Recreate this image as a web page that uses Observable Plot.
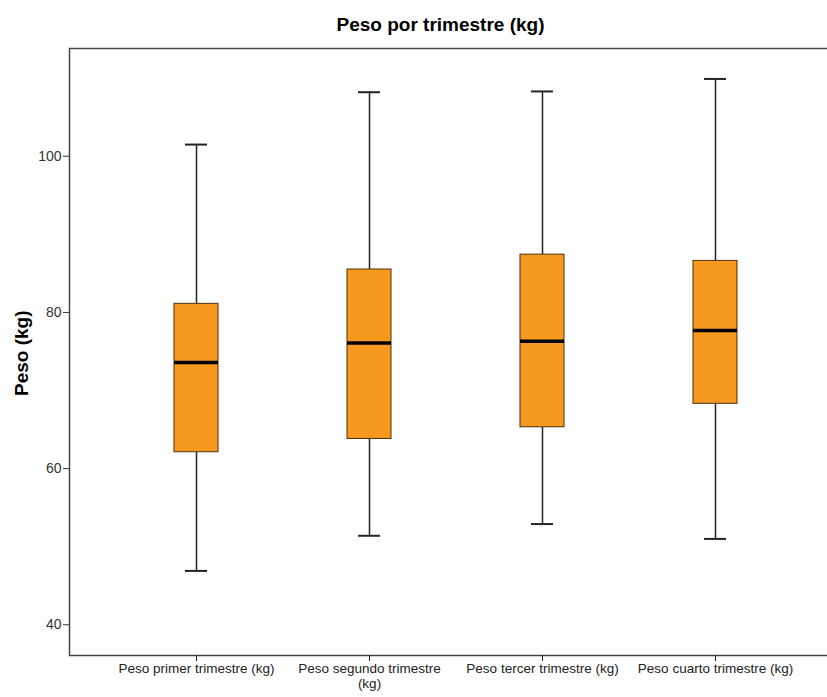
<!DOCTYPE html>
<html>
<head>
<meta charset="utf-8">
<script src="https://cdn.jsdelivr.net/npm/d3@7"></script>
<script src="https://cdn.jsdelivr.net/npm/@observablehq/plot@0.6"></script>
<style>
  body { margin: 0; background: #fff; font-family: "Liberation Sans", Arial, sans-serif; }
  #title { height: 40px; line-height: 50px; text-align: center; font-weight: bold; font-size: 19px; color: #000; padding-left: 54px; }
</style>
</head>
<body>
<div id="title">Peso por trimestre (kg)</div>
<div id="chart"></div>
<script>
// Quarterly weight summaries (kg)
const trimestres = ["Peso primer trimestre (kg)", "Peso segundo trimestre (kg)", "Peso tercer trimestre (kg)", "Peso cuarto trimestre (kg)"];
const minimo  = [46.9, 51.4, 52.9, 51.0];
const q1      = [62.1, 63.8, 65.3, 68.3];
const mediana = [73.6, 76.1, 76.3, 77.7];
const q3      = [81.1, 85.5, 87.4, 86.6];
const maximo  = [101.5, 108.2, 108.3, 109.9];
const yTicks  = [40, 60, 80, 100];

const rows = trimestres.map((t, i) => ({
  t, min: minimo[i], q1: q1[i], med: mediana[i], q3: q3[i], max: maximo[i]
}));

const chart = Plot.plot({
  width: 827,
  height: 657,
  marginTop: 8,
  marginBottom: 42,
  marginLeft: 69,
  marginRight: -3,
  style: { fontFamily: "Liberation Sans, Arial, sans-serif", background: "#fff" },
  x: { type: "band", domain: trimestres, paddingInner: 0.746, paddingOuter: 0.373, insetLeft: 39, insetRight: 28 },
  y: { domain: [36.07, 113.8] },
  marks: [
    Plot.frame({ stroke: "#444", strokeWidth: 1.5 }),
    // whiskers
    Plot.ruleX(rows, { x: "t", y1: "min", y2: "q1", stroke: "#222", strokeWidth: 1.5 }),
    Plot.ruleX(rows, { x: "t", y1: "q3", y2: "max", stroke: "#222", strokeWidth: 1.5 }),
    Plot.tickY(rows, { x: "t", y: "min", stroke: "#222", strokeWidth: 2, insetLeft: 11, insetRight: 11 }),
    Plot.tickY(rows, { x: "t", y: "max", stroke: "#222", strokeWidth: 2, insetLeft: 11, insetRight: 11 }),
    // boxes
    Plot.barY(rows, { x: "t", y1: "q1", y2: "q3", fill: "#f7981f", stroke: "#4a3010", strokeWidth: 1 }),
    Plot.tickY(rows, { x: "t", y: "med", stroke: "#000", strokeWidth: 3.5 }),
    Plot.axisY({ ticks: yTicks, tickSize: 6, tickPadding: 2, fontSize: 14, color: "#333", label: null }),
    Plot.axisX({
      tickSize: 6, tickPadding: 1, fontSize: 13.5, color: "#222", label: null, lineHeight: 1.12,
      tickFormat: d => d === "Peso segundo trimestre (kg)" ? "Peso segundo trimestre\n(kg)" : d
    }),
    Plot.text(["Peso (kg)"], { frameAnchor: "left", rotate: -90, dx: -48, dy: 44, fontWeight: "bold", fontSize: 19, fill: "#000" })
  ]
});
document.getElementById("chart").appendChild(chart);
</script>
</body>
</html>
